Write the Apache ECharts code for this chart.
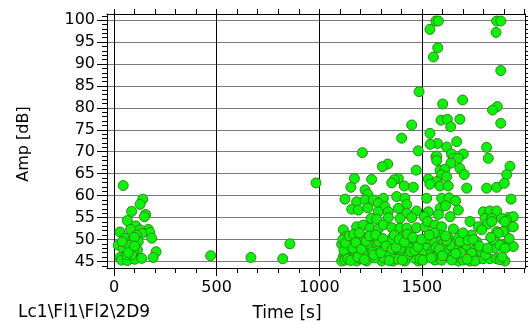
<!DOCTYPE html>
<html><head><meta charset="utf-8">
<script src="https://cdn.jsdelivr.net/npm/echarts@6/dist/echarts.min.js"></script>
<style>html,body{margin:0;padding:0;background:#fff}#c{width:528px;height:324px}</style>
</head><body><div id="c"></div><script>
// Tick labels
const xTickLabels = [0, 500, 1000, 1500];
const xMinorTicks = [100, 200, 300, 400, 600, 700, 800, 900, 1100, 1200, 1300, 1400, 1600, 1700, 1800, 1900, 2000];
const yTickLabels = [45, 50, 55, 60, 65, 70, 75, 80, 85, 90, 95, 100];
const yMinorTicks = [44,45,46,47,48,49,50,51,52,53,54,55,56,57,58,59,60,61,62,63,64,65,66,67,68,69,70,71,72,73,74,75,76,77,78,79,80,81,82,83,84,85,86,87,88,89,90,91,92,93,94,95,96,97,98,99,100,101];

// Early cluster (Time [s], Amp [dB])
const earlyTime = [45,140,127,86,154,148,65,106,167,175,29,127,135,81,110,184,54,91,21,45,75,114,205,94,191,29,37,65,102,135,86,62,118,100,40,70,100];
const earlyAmp  = [62.3,59.2,58.0,56.4,55.7,55.2,54.3,53.1,52.3,51.6,51.7,52.2,51.4,52.3,51.0,50.3,50.3,49.9,48.7,48.0,48.7,47.6,47.2,47.2,45.9,45.9,45.3,45.2,45.5,45.7,46.5,46.5,49.5,50.5,49.5,47.0,48.5];

// Sparse middle hits
const midTime = [471,667,822,857,984];
const midAmp  = [46.3,45.9,45.6,49.0,62.9];

// High-amplitude hits of the late burst
const highTime = [1568,1580,1539,1864,1884,1861,1577,1556,1884,1486,1698,1601,1867,1844,1450,1401,1210,1482,1539,1575,1620,1669,1593,1624,1640,1685,1815,1884,1568,1644,1701,1652,1823,1333,1307,1472,1540,1572,1572,1677,1641,1929];
const highAmp  = [99.8,99.8,97.9,99.8,99.8,97.2,93.7,91.6,88.5,83.7,81.8,80.9,80.3,79.5,76.1,73.1,69.8,70.2,74.2,71.9,71.1,72.3,77.2,77.4,75.7,77.4,71.0,76.5,68.9,69.5,69.5,68.5,68.5,67.2,66.6,65.8,71.7,69.0,68.0,68.5,67.4,66.7];

// Mid-amplitude hits (55-66 dB)
const upperTime = [1588,1612,1596,1620,1685,1706,1913,1531,1572,1588,1628,1718,1815,1864,1901,1171,1255,1385,1365,1353,1154,1414,1458,1223,1236,1539,
  1125,1182,1223,1263,1312,1287,1320,1377,1417,1426,1158,1190,1236,1287,1336,1385,1426,1474,1596,1632,1664,1934,1523,1531,1588,1615,1677,1580,1637,1799,1831,1864,1920,1945,1807,1840,1913];
const upperAmp  = [65.8,66.0,64.7,64.3,66.2,64.8,64.8,63.8,63.2,62.2,62.2,61.7,61.7,61.9,62.8,63.9,63.7,63.9,63.6,62.9,61.9,62.2,61.9,61.3,60.3,62.6,
  59.2,58.6,59.0,59.0,59.4,58.2,57.5,59.8,59.4,58.0,56.9,56.7,57.2,56.3,56.3,57.1,56.0,56.5,59.4,59.5,58.8,59.2,59.4,56.3,57.1,57.7,56.7,55.7,55.2,56.3,56.5,56.5,55.0,55.2,54.8,54.8,54.4];

// Low-amplitude hits (45-55 dB)
const lowTime = [1252,1280,1336,1393,1450,1511,1117,1182,1214,1247,1287,1312,1353,1393,1426,1474,1515,1734,1775,1820,1791,1864,1913,1945,1528,1564,1596,1653,1588,1628,1677,1742,1840,1888,1904,1896,1871,
  1125,1173,1239,1287,1360,1401,1450,
  1766,1856,1896,1917,1945,1677,1734,1775,1799,1831,1864,1904,1677,1718,1758,1791,1710,1742,1847,1880,1904,
  1109,1150,1198,1255,1304,1344,1385,1426,1491,
  1133,1174,1223,1271,1320,1369,1409,1458,1507,
  1117,1158,1207,1247,1296,1336,1385,1426,1474,1515,
  1109,1182,1231,1304,1360,1417,1482,
  1528,1555,1580,1531,1564,1596,1628,1653,1612,1661,1637,1580,1548,1604,1701,1758,
  1150,1170,1190,1160,1210,1240,1280,1330,1350,1400,1440,1470,1500,1380,1270,1200,1130,1460,1125,
  1140,1185,1215,1260,1290,1315,1345,1395,1435,1490,1520,1560,1620,1690,1720,1810,1880,
  1115,1120,1128,1138,1145,1152,1163,1168,1178,1188,1195,1205,1220,1228,1245,1265,1275,1300,1310,1325,1340,1355,1365,1375,1390,1405,1415,1430,1445,1455,1465,1480,1498,1505,1535,1545,1570,1585,1600,1615,1645,1665,1685,1700,1725,1750,1780,1820,1835,1890,1925];
const lowAmp  = [54.8,54.6,55.0,54.8,55.0,55.2,52.2,52.9,53.3,52.6,52.4,53.3,52.7,52.6,52.6,52.7,52.9,54.1,52.9,53.5,52.2,51.8,52.6,52.9,54.1,53.3,52.9,52.4,51.0,50.3,50.3,51.0,54.1,54.8,54.1,51.8,51.4,
  50.6,50.6,50.6,50.6,50.6,50.6,50.6,
  49.5,48.0,48.7,48.4,48.4,45.1,45.1,45.6,45.6,45.6,45.6,45.1,48.4,48.0,47.6,47.2,46.5,46.9,49.9,48.7,48.0,
  48.9,48.9,48.9,48.9,48.9,48.9,48.9,48.9,48.9,
  47.6,47.6,47.6,47.6,47.6,47.6,47.6,47.6,47.6,
  46.1,46.1,46.1,46.1,46.1,46.1,46.1,46.1,46.1,46.1,
  45.1,45.1,45.1,45.1,45.1,45.1,45.1,
  48.4,47.6,46.9,46.5,45.3,45.3,46.1,46.9,47.6,48.0,48.7,49.5,49.9,49.1,45.3,45.1,
  47.0,46.5,48.2,49.8,50.0,49.0,48.3,47.0,49.8,46.8,48.0,49.8,46.8,45.5,45.8,45.6,46.8,45.8,45.3,
  48.0,47.2,46.8,47.2,49.5,45.8,46.5,48.0,46.6,45.5,50.2,51.5,49.8,47.0,45.5,46.5,45.4,
  50.0,47.5,49.2,45.6,50.8,45.2,48.0,51.2,49.3,46.0,51.5,47.8,45.4,49.6,50.8,46.5,51.0,47.0,50.2,48.5,45.2,47.8,51.0,48.2,50.0,45.3,49.4,51.2,47.2,50.5,47.5,48.3,50.0,45.3,51.0,45.8,48.2,47.8,46.3,50.8,45.3,46.8,49.5,51.5,49.8,50.0,48.5,48.0,50.5,46.0,50.2];

const allTime = [].concat(earlyTime, midTime, highTime, upperTime, lowTime);
const allAmp  = [].concat(earlyAmp, midAmp, highAmp, upperAmp, lowAmp);
const points = allTime.map((t, i) => [t, allAmp[i]]);

const FONT = 'DejaVu Sans';
const X_MIN = -34, X_MAX = 2002, Y_MIN = 43.5, Y_MAX = 101.4;
const gridRect = { left: 107, right: 3, top: 14, bottom: 56 };
const black = { color: '#000', width: 1 };
const plain = v => String(v);

const chart = echarts.init(document.getElementById('c'), null, { renderer: 'canvas' });
chart.setOption({
  animation: false,
  backgroundColor: '#fff',
  grid: [Object.assign({}, gridRect), Object.assign({}, gridRect)],
  xAxis: [
    { gridIndex: 0, type: 'value', position: 'bottom', min: X_MIN, max: X_MAX,
      axisLine: { show: true, onZero: false, lineStyle: black },
      axisTick: { show: true, inside: false, length: 8, customValues: xTickLabels, lineStyle: black },
      axisLabel: { show: true, customValues: xTickLabels, formatter: plain, margin: 12, fontFamily: FONT, fontSize: 16, color: '#000' },
      splitLine: { show: true, lineStyle: { color: '#000', width: 1 } } },
    { gridIndex: 0, type: 'value', position: 'top', min: X_MIN, max: X_MAX,
      axisLine: { show: true, onZero: false, lineStyle: black },
      axisTick: { show: true, inside: false, length: 5, customValues: xMinorTicks.concat(xTickLabels), lineStyle: black },
      axisLabel: { show: false }, splitLine: { show: false } },
    { gridIndex: 1, type: 'value', position: 'bottom', min: X_MIN, max: X_MAX,
      axisLine: { show: false, onZero: false },
      axisTick: { show: true, inside: false, length: 5, customValues: xMinorTicks, lineStyle: black },
      axisLabel: { show: false }, splitLine: { show: false } }
  ],
  yAxis: [
    { gridIndex: 0, type: 'value', position: 'left', min: Y_MIN, max: Y_MAX,
      axisLine: { show: true, onZero: false, lineStyle: black },
      axisTick: { show: true, inside: false, length: 10, customValues: yTickLabels, lineStyle: black },
      axisLabel: { show: true, customValues: yTickLabels, formatter: plain, margin: 12, fontFamily: FONT, fontSize: 16, color: '#000' },
      splitLine: { show: true, lineStyle: { color: '#7a7a7a', width: 1 } } },
    { gridIndex: 0, type: 'value', position: 'right', min: Y_MIN, max: Y_MAX,
      axisLine: { show: true, onZero: false, lineStyle: black },
      axisTick: { show: true, inside: false, length: 3, customValues: yMinorTicks, lineStyle: black },
      axisLabel: { show: false }, splitLine: { show: false } },
    { gridIndex: 1, type: 'value', position: 'left', min: Y_MIN, max: Y_MAX,
      axisLine: { show: false, onZero: false },
      axisTick: { show: true, inside: false, length: 5, customValues: yMinorTicks, lineStyle: black },
      axisLabel: { show: false }, splitLine: { show: false } }
  ],
  graphic: [
    { type: 'text', x: 287, y: 314, style: { text: 'Time [s]', font: '17px "DejaVu Sans"', fill: '#000', textAlign: 'center', textVerticalAlign: 'middle' } },
    { type: 'text', x: 18, y: 313, style: { text: 'Lc1\\Fl1\\Fl2\\2D9', font: '17px "DejaVu Sans"', fill: '#000', textAlign: 'left', textVerticalAlign: 'middle' } },
    { type: 'text', x: 24, y: 144, rotation: Math.PI / 2, style: { text: 'Amp [dB]', font: '16px "DejaVu Sans"', fill: '#000', textAlign: 'center', textVerticalAlign: 'middle' } }
  ],
  series: [{
    type: 'scatter', xAxisIndex: 0, yAxisIndex: 0,
    symbol: 'circle', symbolSize: 10,
    itemStyle: { color: '#0ff00f', borderColor: '#2a8a10', borderWidth: 1, opacity: 1 },
    data: points
  }]
});
</script></body></html>
